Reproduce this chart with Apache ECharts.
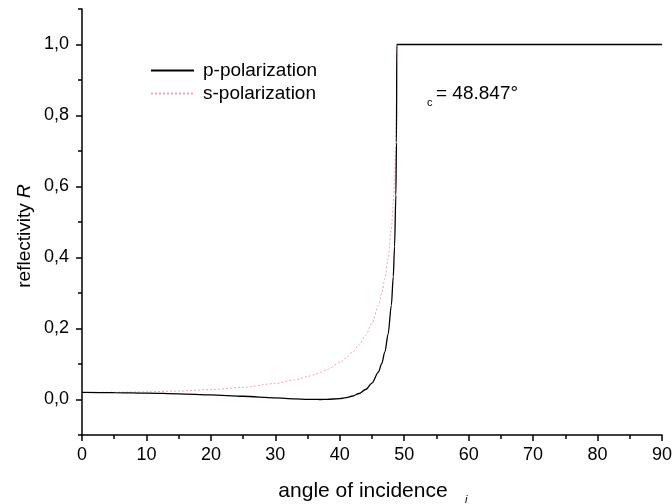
<!DOCTYPE html>
<html>
<head>
<meta charset="utf-8">
<script src="https://cdn.jsdelivr.net/npm/echarts@6/dist/echarts.min.js"></script>
<style>
  html, body { margin: 0; padding: 0; background: #fff; }
  #chart { width: 672px; height: 504px; }
</style>
</head>
<body>
<div id="chart"></div>
<script>
// Angle of incidence in degrees
const angles = [0, 5, 10, 15, 20, 25, 30, 33, 35, 36, 37, 38, 40, 41, 42, 43, 44, 45, 46, 46.5, 47, 47.5, 48, 48.3, 48.5, 48.7, 48.8, 48.847, 50, 60, 70, 80, 90];
// Reflectivity, p-polarized light
const reflP = [0.0199, 0.0195, 0.0182, 0.0161, 0.0132, 0.0092, 0.0047, 0.0020, 0.0006, 0.0002, 0.0000, 0.0002, 0.0026, 0.0054, 0.0098, 0.0169, 0.0282, 0.0464, 0.0771, 0.1009, 0.1342, 0.1840, 0.2650, 0.3462, 0.4306, 0.5756, 0.7238, 1, 1, 1, 1, 1, 1];
// Reflectivity, s-polarized light
const reflS = [0.0199, 0.0203, 0.0215, 0.0239, 0.0279, 0.0343, 0.0450, 0.0550, 0.0642, 0.0699, 0.0765, 0.0842, 0.1042, 0.1173, 0.1335, 0.1539, 0.1802, 0.2153, 0.2647, 0.2981, 0.3406, 0.3975, 0.4797, 0.5532, 0.6231, 0.7321, 0.8327, 1, 1, 1, 1, 1, 1];
// Axis ticks
const yMajorTicks = [0, 0.2, 0.4, 0.6, 0.8, 1.0];
const yMinorTicks = [-0.1, 0.1, 0.3, 0.5, 0.7, 0.9, 1.1];
const criticalLabel = '= 48.847°';

const FONT = 'Liberation Sans, Arial, Helvetica, sans-serif';
const pts = (ys) => angles.map((a, i) => [a, ys[i]]);

const chart = echarts.init(document.getElementById('chart'), null, { renderer: 'canvas' });
chart.setOption({
  animation: false,
  backgroundColor: '#ffffff',
  grid: { left: 82, right: 10, top: 9, bottom: 69, containLabel: false, outerBoundsMode: 'none' },
  legend: {
    left: 150, top: 61, padding: 0,
    orient: 'vertical',
    itemWidth: 43, itemHeight: 14, itemGap: 4,
    data: ['p-polarization', 's-polarization'],
    itemStyle: { opacity: 0 },
    textStyle: { fontFamily: FONT, fontSize: 19, color: '#000', lineHeight: 19, padding: [0, 0, 0, 4] }
  },
  xAxis: {
    type: 'value', min: 0, max: 90, interval: 10,
    axisLine: { show: true, onZero: false, lineStyle: { color: '#000', width: 1.5 } },
    axisTick: { show: true, inside: false, length: 6, lineStyle: { color: '#000', width: 1.5 } },
    minorTick: { show: true, splitNumber: 2, length: 4, lineStyle: { color: '#000', width: 1.5 } },
    splitLine: { show: false },
    axisLabel: { fontFamily: FONT, fontSize: 18, color: '#000', margin: 11 },
    name: 'angle of incidence',
    nameLocation: 'middle', nameGap: 46,
    nameTextStyle: { fontFamily: FONT, fontSize: 21, color: '#000', padding: [0, 18, 0, 0] }
  },
  yAxis: [
    {
      type: 'value', min: -0.1, max: 1.1, position: 'left',
      axisLine: { show: true, onZero: false, lineStyle: { color: '#000', width: 1.5 } },
      axisTick: { show: true, inside: false, length: 6, customValues: yMajorTicks, lineStyle: { color: '#000', width: 1.5 } },
      splitLine: { show: false },
      axisLabel: {
        customValues: yMajorTicks,
        fontFamily: FONT, fontSize: 18, color: '#000', margin: 13,
        formatter: (v) => v.toFixed(1).replace('.', ',')
      }
    },
    {
      type: 'value', min: -0.1, max: 1.1, position: 'left',
      axisLine: { show: false, onZero: false },
      axisTick: { show: true, inside: false, length: 4, customValues: yMinorTicks, lineStyle: { color: '#000', width: 1.5 } },
      splitLine: { show: false },
      axisLabel: { show: false }
    }
  ],
  series: [
    {
      name: 's-polarization', type: 'line', yAxisIndex: 0,
      data: pts(reflS), showSymbol: false, symbol: 'none',
      smooth: 0.3, smoothMonotone: 'x',
      lineStyle: { color: '#f4a3ad', width: 1, type: [2, 2] },
      itemStyle: { color: '#f4a3ad' },
      z: 2
    },
    {
      name: 'p-polarization', type: 'line', yAxisIndex: 0,
      data: pts(reflP), showSymbol: false, symbol: 'none',
      smooth: 0.3, smoothMonotone: 'x',
      lineStyle: { color: '#000', width: 1.3 },
      itemStyle: { color: '#000' },
      z: 3
    }
  ],
  graphic: [
    {
      type: 'text', left: 436, top: 84,
      style: { text: criticalLabel, fontFamily: FONT, fontSize: 19, fill: '#000' }
    },
    {
      type: 'text', left: 427, top: 97,
      style: { text: 'c', fontFamily: FONT, fontSize: 11, fill: '#000' }
    },
    {
      type: 'text', left: 465, top: 494,
      style: { text: 'i', fontFamily: FONT, fontSize: 11, fontStyle: 'italic', fill: '#000' }
    },
    {
      type: 'text', x: 25, y: 236, rotation: Math.PI / 2,
      style: {
        text: '{a|reflectivity }{b|R}',
        align: 'center', verticalAlign: 'middle',
        rich: {
          a: { fontFamily: FONT, fontSize: 19, fill: '#000' },
          b: { fontFamily: FONT, fontSize: 19, fontStyle: 'italic', fill: '#000' }
        }
      }
    }
  ]
});
</script>
</body>
</html>
